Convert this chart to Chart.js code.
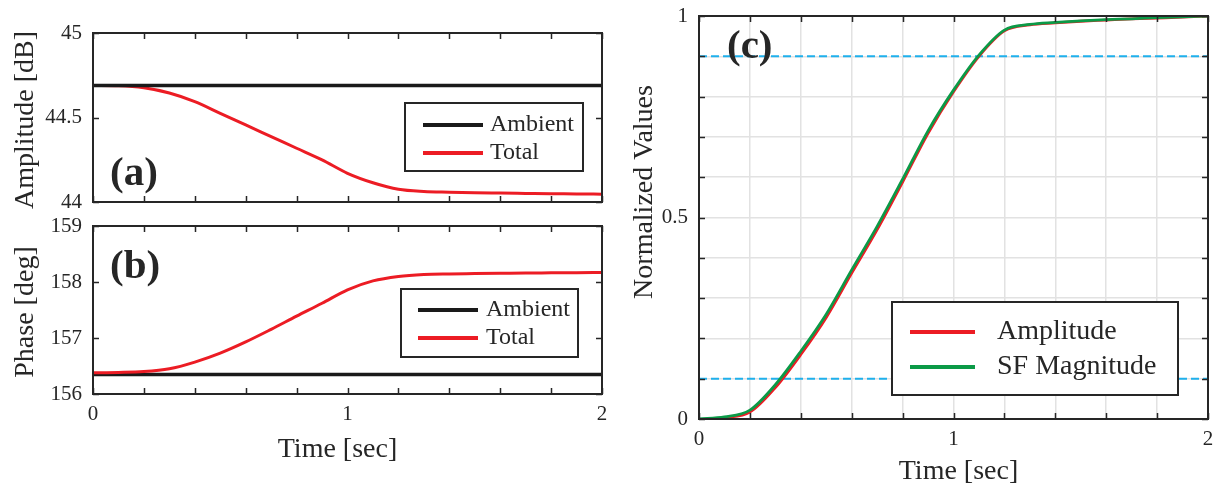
<!DOCTYPE html>
<html>
<head>
<meta charset="utf-8">
<title>Amplitude / phase response</title>
<script src="https://cdn.jsdelivr.net/npm/chart.js@4.4.0/dist/chart.umd.min.js"></script>
<style>
  body { margin: 0; background: #fff; width: 1213px; height: 483px; overflow: hidden; position: relative; }
  canvas { position: absolute; }
</style>
</head>
<body>
<canvas id="ampChart" width="612" height="215" style="left:0;top:0"></canvas>
<canvas id="phaseChart" width="612" height="271" style="left:0;top:212px"></canvas>
<canvas id="normChart" width="593" height="483" style="left:620px;top:0"></canvas>

<script>
// ---- data ----
const timeSec = [0, 0.1, 0.2, 0.3, 0.4, 0.5, 0.6, 0.7, 0.8, 0.9, 1.0,
                 1.1, 1.2, 1.3, 1.4, 1.5, 1.6, 1.7, 1.8, 1.9, 2.0];
const ambientTime = [0, 2];

// (a) amplitude in dB
const ambientAmpDb = [44.69, 44.69];
const totalAmpDb = [44.69, 44.688, 44.676, 44.645, 44.594, 44.525, 44.456, 44.387, 44.318, 44.249, 44.17,
                    44.114, 44.075, 44.062, 44.058, 44.055, 44.053, 44.051, 44.049, 44.048, 44.046];

// (b) phase in degrees
const ambientPhaseDeg = [156.35, 156.35];
const totalPhaseDeg = [156.38, 156.385, 156.4, 156.45, 156.57, 156.73, 156.93, 157.155, 157.39, 157.62, 157.86,
                       158.02, 158.1, 158.135, 158.145, 158.15, 158.155, 158.16, 158.163, 158.166, 158.17];

// (c) normalized step responses
const sfMagnitude = [0, 0.005, 0.022, 0.085, 0.168, 0.26, 0.37, 0.478, 0.595, 0.715, 0.816,
                     0.903, 0.965, 0.979, 0.984, 0.988, 0.991, 0.993, 0.996, 0.998, 1.0];
const ampTime = [0.06, 0.1, 0.2, 0.3, 0.4, 0.5, 0.6, 0.7, 0.8, 0.9, 1.0,
                 1.1, 1.2, 1.3, 1.4, 1.5, 1.6, 1.7, 1.8, 1.9, 2.0];
const ampNormalized = [0, 0.003, 0.017, 0.078, 0.16, 0.252, 0.362, 0.47, 0.588, 0.709, 0.812,
                       0.9, 0.963, 0.978, 0.983, 0.987, 0.99, 0.993, 0.995, 0.997, 1.0];
const thresholdTime = [0, 2];
const lowThreshold = [0.1, 0.1];
const highThreshold = [0.9, 0.9];

// ---- style ----
const SERIF = "'Liberation Serif', 'Times New Roman', serif";
const INK = '#262626';
const RED = '#ec1c24';
const BLACK = '#1a1a1a';
const GREEN = '#0b9a47';
const CYAN = '#1fb0ec';

Chart.defaults.font.family = SERIF;
Chart.defaults.color = INK;

const pts = (xs, ys) => xs.map((x, i) => ({ x: x, y: ys[i] }));

// draws the MATLAB-like frame: box, inward ticks, legend, panel tag, axis titles
const figureFrame = {
  id: 'figureFrame',
  afterDatasetsDraw(chart, args, o) {
    const { ctx, chartArea: a, scales } = chart;
    ctx.save();

    ctx.strokeStyle = INK;
    ctx.lineWidth = 1.5;
    ctx.beginPath();
    scales.x.ticks.forEach(t => {
      const px = Math.round(scales.x.getPixelForValue(t.value)) + 0.5;
      ctx.moveTo(px, a.bottom); ctx.lineTo(px, a.bottom - 6);
      ctx.moveTo(px, a.top); ctx.lineTo(px, a.top + 6);
    });
    scales.y.ticks.forEach(t => {
      const py = Math.round(scales.y.getPixelForValue(t.value)) + 0.5;
      ctx.moveTo(a.left, py); ctx.lineTo(a.left + 6, py);
      ctx.moveTo(a.right, py); ctx.lineTo(a.right - 6, py);
    });
    ctx.stroke();
    ctx.lineWidth = 2;
    ctx.strokeRect(a.left, a.top, a.right - a.left, a.bottom - a.top);

    // legend
    const lg = o.legend;
    const bx = a.left + lg.left, by = a.top + lg.top;
    ctx.fillStyle = '#fff';
    ctx.fillRect(bx, by, lg.width, lg.height);
    ctx.lineWidth = 2;
    ctx.strokeStyle = INK;
    ctx.strokeRect(bx, by, lg.width, lg.height);
    ctx.font = lg.fontSize + 'px ' + SERIF;
    ctx.textBaseline = 'middle';
    ctx.textAlign = 'left';
    lg.items.forEach((di, k) => {
      const ds = chart.data.datasets[di];
      const ry = by + lg.rows[k];
      ctx.strokeStyle = ds.borderColor;
      ctx.lineWidth = 4;
      ctx.beginPath();
      ctx.moveTo(bx + lg.sampleX, ry);
      ctx.lineTo(bx + lg.sampleX + lg.sampleLen, ry);
      ctx.stroke();
      ctx.fillStyle = INK;
      ctx.fillText(ds.label, bx + lg.textX, ry);
    });

    // panel tag
    ctx.fillStyle = INK;
    ctx.font = 'bold 41px ' + SERIF;
    ctx.textBaseline = 'alphabetic';
    ctx.textAlign = 'left';
    ctx.fillText(o.tag.text, a.left + o.tag.dx, a.top + o.tag.dy);

    // axis titles
    ctx.font = '28px ' + SERIF;
    ctx.textAlign = 'center';
    o.titles.forEach(t => {
      ctx.save();
      ctx.translate(a.left + t.dx, a.top + t.dy);
      if (t.vertical) ctx.rotate(-Math.PI / 2);
      ctx.fillText(t.text, 0, 0);
      ctx.restore();
    });
    ctx.restore();
  }
};

function xAxis(showLabels, height) {
  return {
    type: 'linear', min: 0, max: 2,
    grid: { display: false, drawTicks: false },
    border: { display: false },
    ticks: {
      display: showLabels, stepSize: 0.2, autoSkip: false, maxRotation: 0, padding: 8,
      font: { size: 21 },
      callback: v => (Math.abs(v - Math.round(v)) < 1e-6 ? String(Math.round(v)) : '')
    },
    afterFit: s => { s.height = height; s.paddingLeft = 0; s.paddingRight = 0; }
  };
}

function yAxis(min, max, step, width) {
  return {
    min: min, max: max,
    grid: { display: false, drawTicks: false },
    border: { display: false },
    ticks: {
      stepSize: step, autoSkip: false, padding: 11, font: { size: 21 },
      callback: v => String(Math.round(v * 10) / 10)
    },
    afterFit: s => { s.width = width; s.paddingTop = 0; s.paddingBottom = 0; }
  };
}

const baseOptions = {
  responsive: false,
  devicePixelRatio: 1,
  animation: false,
  events: [],
  elements: { point: { radius: 0 }, line: { cubicInterpolationMode: 'monotone' } }
};

// (a) amplitude
new Chart(document.getElementById('ampChart'), {
  type: 'line',
  data: {
    datasets: [
      { label: 'Ambient', data: pts(ambientTime, ambientAmpDb), borderColor: BLACK, borderWidth: 3.5, order: 0 },
      { label: 'Total', data: pts(timeSec, totalAmpDb), borderColor: RED, borderWidth: 3, order: 1 }
    ]
  },
  options: Object.assign({}, baseOptions, {
    layout: { padding: { top: 33, right: 10, bottom: 0, left: 0 } },
    scales: { x: xAxis(false, 13), y: yAxis(44, 45, 0.5, 93) },
    plugins: {
      legend: { display: false }, tooltip: { enabled: false },
      figureFrame: {
        legend: { left: 312, top: 70, width: 178, height: 68, sampleX: 18, sampleLen: 60, textX: 85,
                  rows: [22, 50], fontSize: 24, items: [0, 1] },
        tag: { text: '(a)', dx: 17, dy: 152 },
        titles: [{ text: 'Amplitude [dB]', dx: -60.5, dy: 87, vertical: true }]
      }
    }
  }),
  plugins: [figureFrame]
});

// (b) phase
new Chart(document.getElementById('phaseChart'), {
  type: 'line',
  data: {
    datasets: [
      { label: 'Ambient', data: pts(ambientTime, ambientPhaseDeg), borderColor: BLACK, borderWidth: 3.5, order: 1 },
      { label: 'Total', data: pts(timeSec, totalPhaseDeg), borderColor: RED, borderWidth: 3, order: 0 }
    ]
  },
  options: Object.assign({}, baseOptions, {
    layout: { padding: { top: 14, right: 10, bottom: 0, left: 0 } },
    scales: { x: xAxis(true, 89), y: yAxis(156, 159, 1, 93) },
    plugins: {
      legend: { display: false }, tooltip: { enabled: false },
      figureFrame: {
        legend: { left: 308, top: 63, width: 177, height: 68, sampleX: 17, sampleLen: 60, textX: 85,
                  rows: [21, 49], fontSize: 24, items: [0, 1] },
        tag: { text: '(b)', dx: 17, dy: 52 },
        titles: [
          { text: 'Phase [deg]', dx: -60.5, dy: 86, vertical: true },
          { text: 'Time [sec]', dx: 244.5, dy: 230.5 }
        ]
      }
    }
  }),
  plugins: [figureFrame]
});

// (c) normalized values
const normY = yAxis(0, 1, 0.1, 79);
normY.grid = { display: true, drawTicks: false, color: '#e2e2e2', lineWidth: 1.5 };
normY.ticks.callback = v => {
  const h = v * 2;
  return Math.abs(h - Math.round(h)) < 1e-6 ? String(Math.round(h) / 2) : '';
};
const normX = xAxis(true, 64);
normX.grid = { display: true, drawTicks: false, color: '#e2e2e2', lineWidth: 1.5 };

new Chart(document.getElementById('normChart'), {
  type: 'line',
  data: {
    datasets: [
      { label: 'Amplitude', data: pts(ampTime, ampNormalized), borderColor: RED, borderWidth: 2.8, order: 1 },
      { label: 'SF Magnitude', data: pts(timeSec, sfMagnitude), borderColor: GREEN, borderWidth: 2.8, order: 0 },
      { label: '10%', data: pts(thresholdTime, lowThreshold), borderColor: CYAN, borderWidth: 2, borderDash: [8, 4], order: 2 },
      { label: '90%', data: pts(thresholdTime, highThreshold), borderColor: CYAN, borderWidth: 2, borderDash: [8, 4], order: 2 }
    ]
  },
  options: Object.assign({}, baseOptions, {
    layout: { padding: { top: 16, right: 5, bottom: 0, left: 0 } },
    scales: { x: normX, y: normY },
    plugins: {
      legend: { display: false }, tooltip: { enabled: false },
      figureFrame: {
        legend: { left: 193, top: 286, width: 286, height: 93, sampleX: 18, sampleLen: 65, textX: 105,
                  rows: [30, 65], fontSize: 28, items: [0, 1] },
        tag: { text: '(c)', dx: 28, dy: 42 },
        titles: [
          { text: 'Normalized Values', dx: -47.5, dy: 176, vertical: true },
          { text: 'Time [sec]', dx: 259.5, dy: 462.5 }
        ]
      }
    }
  }),
  plugins: [figureFrame]
});
</script>
</body>
</html>
